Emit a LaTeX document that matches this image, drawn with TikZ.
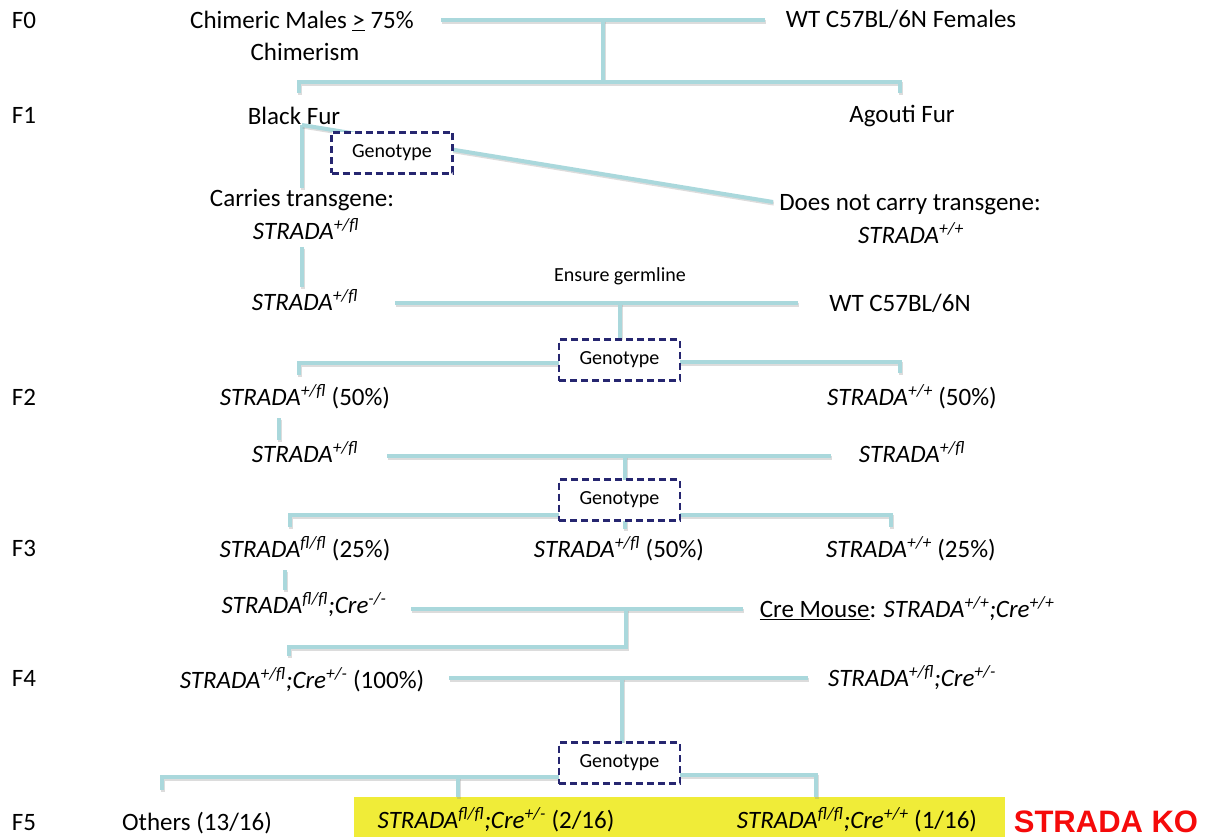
\documentclass[tikz,border=0pt]{standalone}
\usepackage{fontspec}
\setmainfont{Carlito}
\newfontfamily\arialb{Liberation Sans}
\definecolor{ln}{RGB}{170,216,220}
\definecolor{nv}{RGB}{38,38,112}
\definecolor{yl}{RGB}{240,236,56}
\definecolor{kored}{RGB}{245,10,10}
\newcommand\gsd[1]{\textit{STRADA\textsuperscript{#1}}}
\newcommand\gcre[1]{\textit{Cre\textsuperscript{#1}}}
\begin{document}
\begin{tikzpicture}[x=1pt,y=-1pt,
  font=\fontsize{25}{30}\selectfont,
  txt/.style={inner sep=0pt, anchor=center},
  conn/.style={draw=ln, line width=4pt,
    preaction={draw=black!45, line width=4pt, opacity=0.3,
      transform canvas={shift={(0.8pt,-1.6pt)}}}},
  genobox/.style={draw=nv, line width=2.5pt, dash pattern=on 7pt off 4pt,
    fill=white, minimum width=121pt, minimum height=41pt, inner sep=0pt,
    font=\fontsize{20}{24}\selectfont}]
\useasboundingbox (0,0) rectangle (1216,837);

% highlight
\fill[yl] (354,797) rectangle (1005,837);

% ---- connectors ----
\coordinate (j0) at (603,20);
\draw[conn] (441,20) -- (765,20);
\draw[conn] (j0) -- (603,82);
\draw[conn] (299,93) -- (299,82) -- (900,82) -- (900,93);
% F1
\coordinate (bf) at (302,125);
\draw[conn] (bf) -- (302,188);
\draw[conn] (bf) -- (773,202);
\draw[conn] (302,247) -- (302,287);
% germline cross
\draw[conn] (395,303) -- (798,303);
\draw[conn] (620,303) -- (620,340);
\draw[conn] (299,375) -- (299,363) -- (559,363);
\draw[conn] (680,362) -- (900,362) -- (900,373);
% F2
\draw[conn] (279,418) -- (279,440);
\draw[conn] (387,456) -- (831,456);
\draw[conn] (625,456) -- (625,480);
\draw[conn] (290,527) -- (290,515) -- (559,515);
\draw[conn] (680,515) -- (891,515) -- (891,527);
\draw[conn] (625,520) -- (625,529);
% F3
\draw[conn] (285,570) -- (285,590);
\draw[conn] (411,609) -- (743,609);
\draw[conn] (626,609) -- (626,647) -- (289,647) -- (289,656);
% F4
\draw[conn] (449,678) -- (808,678);
\draw[conn] (622,678) -- (622,743);
\draw[conn] (162,790) -- (162,777) -- (559,777);
\draw[conn] (458,777) -- (458,797);
\draw[conn] (680,775) -- (816,775) -- (816,797);

% ---- genotype boxes ----
\node[genobox] (g1) at (392,153) {Genotype};
\node[genobox] (g2) at (619.5,360) {Genotype};
\node[genobox] (g3) at (619.5,500) {Genotype};
\node[genobox] (g4) at (619.5,763) {Genotype};

% ---- generation labels ----
\foreach \n/\yy in {0/20,1/115,2/397,3/548,4/678,5/823}
  \node[txt] (F\n) at (24,\yy) {F\n};

% ---- texts ----
\node[txt] (chim1) at (302,21) {Chimeric Males \underline{>} 75\%};
\node[txt] (chim2) at (305,52) {Chimerism};
\node[txt] (wtf) at (901,19) {WT C57BL/6N Females};
\node[txt] (black) at (294,116) {Black Fur};
\node[txt] (agouti) at (902,116) {Agouti Fur};
\node[txt] (carr1) at (302,200) {Carries transgene:};
\node[txt] (carr2) at (306,229) {\gsd{+/fl}};
\node[txt] (dn1) at (910,205) {Does not carry transgene:};
\node[txt] (dn2) at (911,233) {\gsd{+/+}};
\node[txt] (s1) at (305,300) {\gsd{+/fl}};
\node[txt] (wt) at (900,303) {WT C57BL/6N};
\node[txt, font=\fontsize{20}{24}\selectfont] (germ) at (620,276) {Ensure germline};
\node[txt] (f2a) at (305,397) {\gsd{+/fl} (50\%)};
\node[txt] (f2b) at (912,397) {\gsd{+/+} (50\%)};
\node[txt] (s2a) at (305,452) {\gsd{+/fl}};
\node[txt] (s2b) at (912,452) {\gsd{+/fl}};
\node[txt] (f3a) at (305,549) {\gsd{fl/fl} (25\%)};
\node[txt] (f3b) at (619,549) {\gsd{+/fl} (50\%)};
\node[txt] (f3c) at (911,549) {\gsd{+/+} (25\%)};
\node[txt] (s3a) at (304,605) {\gsd{fl/fl}\textit{;}\gcre{-/-}};
\node[txt] (cre) at (907,609) {\underline{Cre Mouse}: \gsd{+/+}\textit{;}\gcre{+/+}};
\node[txt] (f4a) at (302,680) {\gsd{+/fl}\textit{;}\gcre{+/-} (100\%)};
\node[txt] (f4b) at (912,678) {\gsd{+/fl}\textit{;}\gcre{+/-}};
\node[txt] (oth) at (197,823) {Others (13/16)};
\node[txt] (ko1) at (496,820) {\gsd{fl/fl}\textit{;}\gcre{+/-} (2/16)};
\node[txt] (ko2) at (857,820) {\gsd{fl/fl}\textit{;}\gcre{+/+} (1/16)};
\node[inner sep=0pt, anchor=base, font=\arialb\bfseries\fontsize{31}{35}\selectfont, text=kored] (ko) at (1106,832) {STRADA KO};
\end{tikzpicture}
\end{document}
